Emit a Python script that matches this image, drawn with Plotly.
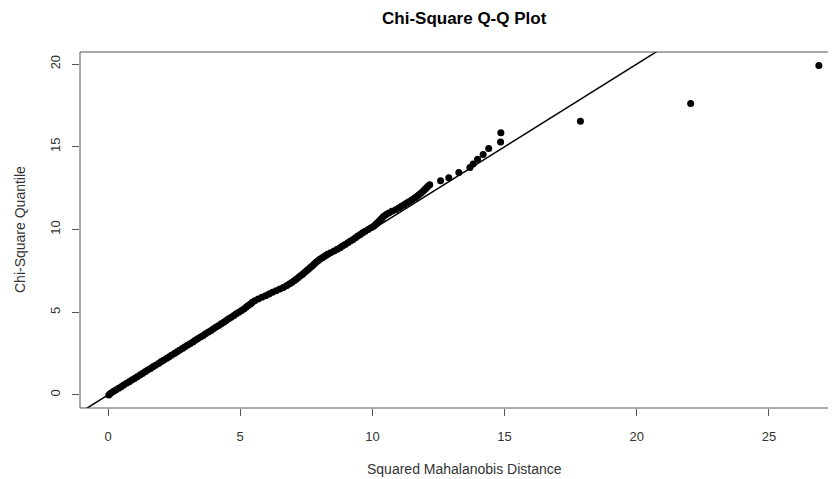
import plotly.graph_objects as go

# Chi-square quantiles (y) vs squared Mahalanobis distances (x)
chisq_quantile = [
    0.0, 0.1, 0.2, 0.3, 0.4, 0.5, 0.6, 0.7, 0.8, 0.9,
    1.0, 1.1, 1.2, 1.3, 1.4, 1.5, 1.6, 1.7, 1.8, 1.9,
    2.0, 2.1, 2.2, 2.3, 2.4, 2.5, 2.6, 2.7, 2.8, 2.9,
    3.0, 3.1, 3.2, 3.3, 3.4, 3.5, 3.6, 3.7, 3.8, 3.9,
    4.0, 4.1, 4.2, 4.3, 4.4, 4.5, 4.6, 4.7, 4.8, 4.9,
    5.0, 5.1, 5.2, 5.3, 5.4, 5.5, 5.6, 5.7, 5.8, 5.9,
    6.0, 6.1, 6.2, 6.3, 6.4, 6.5, 6.6, 6.7, 6.8, 6.9,
    7.0, 7.1, 7.2, 7.3, 7.4, 7.5, 7.6, 7.7, 7.8, 7.9,
    8.0, 8.1, 8.2, 8.3, 8.4, 8.5, 8.6, 8.7, 8.8, 8.9,
    9.0, 9.1, 9.2, 9.3, 9.4, 9.5, 9.6, 9.7, 9.8, 9.9,
    10.0, 10.1, 10.2, 10.3, 10.4, 10.5, 10.6, 10.7, 10.8, 10.9,
    11.0, 11.1, 11.2, 11.3, 11.4, 11.5, 11.6, 11.7, 11.8, 11.9,
    12.0, 12.1, 12.2, 12.3, 12.4, 12.5, 12.6, 12.7,
    12.95, 13.13, 13.45, 13.75, 13.96, 14.24, 14.54, 14.90, 15.29, 15.85,
    16.54, 17.62, 19.92,
]
mahalanobis_sq = [
    0.03, 0.10, 0.20, 0.29, 0.40, 0.50, 0.59, 0.70, 0.80, 0.90,
    1.00, 1.10, 1.21, 1.30, 1.40, 1.50, 1.61, 1.70, 1.80, 1.91,
    2.00, 2.10, 2.21, 2.30, 2.40, 2.51, 2.60, 2.70, 2.81, 2.90,
    3.00, 3.10, 3.21, 3.30, 3.39, 3.50, 3.60, 3.69, 3.80, 3.90,
    3.99, 4.09, 4.19, 4.28, 4.38, 4.47, 4.56, 4.66, 4.76, 4.85,
    4.95, 5.05, 5.14, 5.22, 5.30, 5.39, 5.46, 5.55, 5.68, 5.82,
    5.96, 6.09, 6.22, 6.36, 6.50, 6.63, 6.75, 6.86, 6.95, 7.04,
    7.12, 7.20, 7.28, 7.36, 7.43, 7.51, 7.58, 7.65, 7.72, 7.79,
    7.86, 7.93, 8.01, 8.10, 8.20, 8.30, 8.42, 8.55, 8.67, 8.78,
    8.87, 8.97, 9.07, 9.17, 9.27, 9.36, 9.45, 9.54, 9.63, 9.73,
    9.84, 9.95, 10.05, 10.12, 10.18, 10.25, 10.31, 10.37, 10.43, 10.52,
    10.62, 10.74, 10.88, 11.00, 11.10, 11.20, 11.30, 11.40, 11.50, 11.60,
    11.68, 11.76, 11.84, 11.91, 11.97, 12.03, 12.09, 12.17,
    12.58, 12.89, 13.27, 13.69, 13.81, 13.98, 14.19, 14.40, 14.85, 14.86,
    17.87, 22.04, 26.89,
]
x_ticks = [0, 5, 10, 15, 20, 25]
y_ticks = [0, 5, 10, 15, 20]
ref_intercept = 0.0
ref_slope = 1.0

x_range = [-1.06, 27.5]
y_range = [-0.79, 20.73]

# the page body adds an 8px margin; the figure is sized so it fills the window
OFF = 8
W, H = 836 - OFF, 479 - OFF
ML, MR, MT, MB = 80 - OFF, 1, 52 - OFF, H - (408 - OFF)
font_family = "Liberation Sans, Arial, sans-serif"
txt_col = "#333333"

fig = go.Figure()
fig.add_trace(go.Scatter(
    x=mahalanobis_sq, y=chisq_quantile, mode="markers",
    marker=dict(color="black", size=7, line=dict(width=0)),
    hoverinfo="x+y", showlegend=False,
))
line_x = [x_range[0] - 1, x_range[1] + 1]
fig.add_trace(go.Scatter(
    x=line_x, y=[ref_intercept + ref_slope * v for v in line_x],
    mode="lines", line=dict(color="black", width=1.5),
    hoverinfo="skip", showlegend=False,
))

axis_common = dict(
    showgrid=False, zeroline=False, showline=False,
    ticks="outside", ticklen=7, tickwidth=1, tickcolor="#555555",
    tickfont=dict(family=font_family, size=13, color=txt_col),
)
fig.update_xaxes(range=x_range, tickvals=x_ticks, ticklabelstandoff=9, **axis_common)
fig.update_yaxes(range=y_range, tickvals=y_ticks, tickangle=-90, ticklabelstandoff=7, **axis_common)

plot_w = W - ML - MR
plot_h = H - MT - MB
def px_to_paper_x(px):  # px in page pixels
    return (px - OFF - ML) / plot_w
def px_to_paper_y(py):
    return (H - MB - (py - OFF)) / plot_h

# box (right side lies outside the visible window)
box_col = "#555555"
fig.add_shape(type="line", xref="paper", yref="paper", x0=0, x1=1.05, y0=0, y1=0,
              line=dict(color=box_col, width=1))
fig.add_shape(type="line", xref="paper", yref="paper", x0=0, x1=1.05, y0=1, y1=1,
              line=dict(color=box_col, width=1))
fig.add_shape(type="line", xref="paper", yref="paper", x0=0, x1=0, y0=0, y1=1,
              line=dict(color=box_col, width=1))

fig.add_annotation(text="<b>Chi-Square Q-Q Plot</b>", xref="paper", yref="paper",
                   x=px_to_paper_x(464), y=px_to_paper_y(18), showarrow=False,
                   xanchor="center", yanchor="middle",
                   font=dict(family=font_family, size=17, color="black"))
fig.add_annotation(text="Squared Mahalanobis Distance", xref="paper", yref="paper",
                   x=px_to_paper_x(464), y=px_to_paper_y(469), showarrow=False,
                   xanchor="center", yanchor="middle",
                   font=dict(family=font_family, size=14, color=txt_col))
fig.add_annotation(text="Chi-Square Quantile", xref="paper", yref="paper",
                   x=px_to_paper_x(20), y=px_to_paper_y(230), showarrow=False,
                   xanchor="center", yanchor="middle", textangle=-90,
                   font=dict(family=font_family, size=14, color=txt_col))

fig.update_layout(
    width=W, height=H,
    margin=dict(l=ML, r=MR, t=MT, b=MB, pad=0),
    paper_bgcolor="white", plot_bgcolor="white",
    showlegend=False,
)
fig.write_html("out.html")
